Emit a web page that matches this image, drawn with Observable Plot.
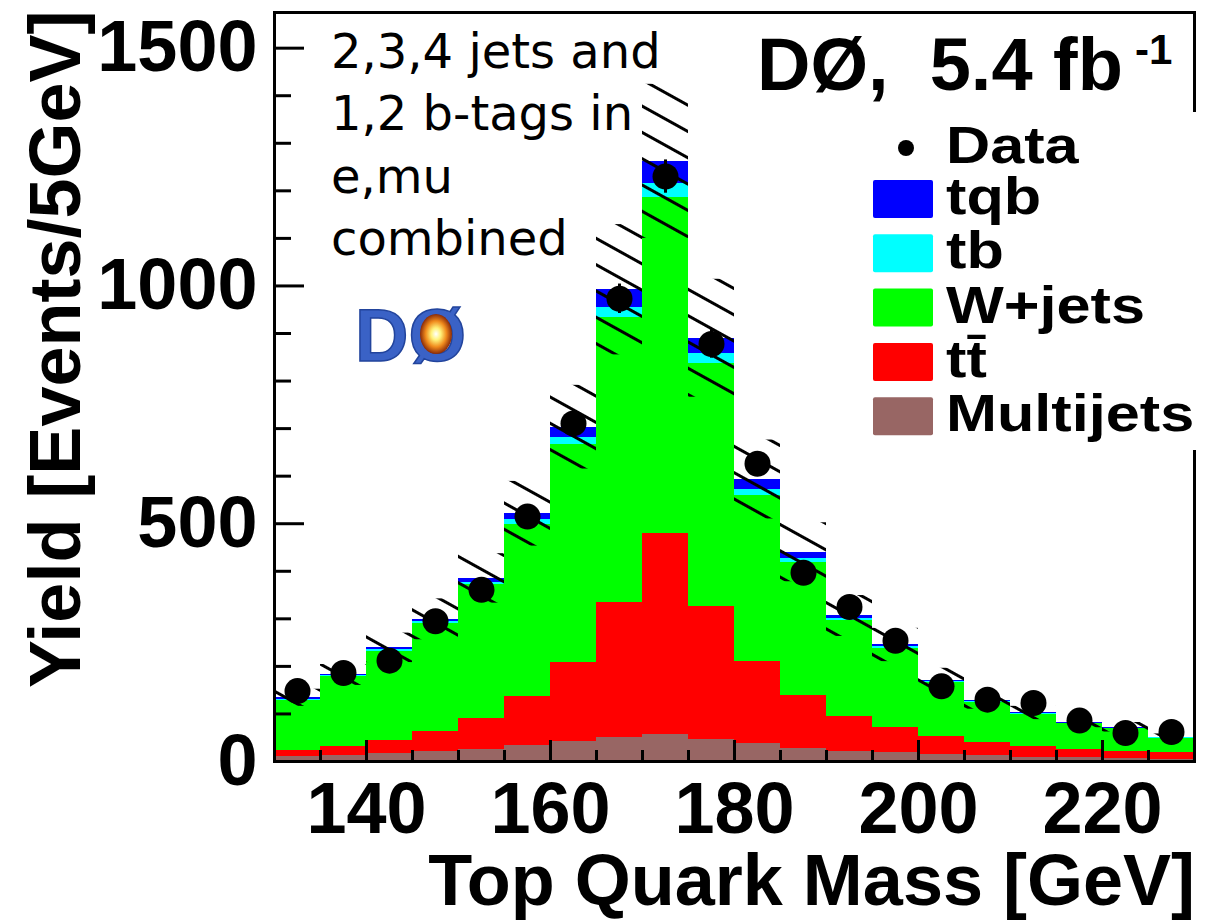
<!DOCTYPE html>
<html>
<head>
<meta charset="utf-8">
<script src="https://cdn.jsdelivr.net/npm/d3@7"></script>
<script src="https://cdn.jsdelivr.net/npm/@observablehq/plot@0.6"></script>
<style>
  html, body { margin: 0; padding: 0; background: #fff; }
  #chart { width: 1218px; height: 921px; }
</style>
</head>
<body>
<div id="chart"></div>
<script>
// ---- data ----
const binLow = [130,135,140,145,150,155,160,165,170,175,180,185,190,195,200,205,210,215,220,225];
const binWidth = 5;
const multijets = [10,12,16,21,26,34,43,50,57,46,37,27,22,18,15,13,9,8,6,5];
const ttbar     = [13,20,28,42,64,103,166,285,423,280,173,112,73,54,38,28,23,17,16,14];
const wjets     = [105,147,188,228,282,361,458,599,707,510,349,280,202,166,114,84,66,54,47,30];
const tb        = [3,2,3,3,5,10,15,21,28,21,13,7,4,3,2,1,2,1,1,1];
const tqb       = [3,2,4,5,8,13,21,37,47,33,21,14,6,4,2,2,2,2,2,1];
const dataYield = [148,186,212,295,361,515,711,973,1230,878,626,397,325,254,158,130,123,86,60,62];
const dataErr   = [12,14,15,17,19,23,27,31,35,30,25,20,18,16,13,11,11,9,8,8];
const bandLow   = [116,160,208,256,333,453,615,855,1100,766,510,378,263,210,146,110,88,71,62,44];
const bandHigh  = [152,204,270,342,437,589,791,1129,1424,1014,676,502,349,280,196,146,116,93,82,58];

const components = ["Multijets", "tt\u0304", "W+jets", "tb", "tqb"];
const componentColors = ["#986664", "#ff0000", "#00ff00", "#00ffff", "#0000ff"];
const legendOrder = ["tqb", "tb", "W+jets", "tt\u0304", "Multijets"];

const yLabelTicks = [0, 500, 1000, 1500];
const yMinorTicks = [100,200,300,400,600,700,800,900,1100,1200,1300,1400];
const xLabelTicks = [140, 160, 180, 200, 220];
const xMinorTicks = [135,145,150,155,165,170,175,185,190,195,205,210,215,225];

const xTitle = "Top Quark Mass [GeV]";
const yTitle = "Yield [Events/5GeV]";
const noteLines = ["2,3,4 jets and", "1,2 b-tags in", "e,mu", "combined"];
const expLabel = "D\u00D8,\u00A0 5.4 fb";
const expSup = "-1";

// ---- tables ----
const series = [multijets, ttbar, wjets, tb, tqb];
const stackRows = binLow.flatMap((lo, i) =>
  components.map((c, j) => ({lo, hi: lo + binWidth, comp: c, value: series[j][i]})));
const bins = binLow.map((lo, i) => ({
  lo, hi: lo + binWidth, mid: lo + binWidth / 2,
  data: dataYield[i], err: dataErr[i], bLo: bandLow[i], bHi: bandHigh[i]
}));

const FONT = "'Liberation Sans', Arial, Helvetica, sans-serif";
const plain = d => String(d);

const chart = Plot.plot({
  width: 1218, height: 921,
  marginLeft: 274, marginRight: 24, marginTop: 12, marginBottom: 160,
  x: {domain: [130, 230], label: null},
  y: {domain: [0, 1575], label: null},
  color: {domain: components, range: componentColors},
  style: {fontFamily: FONT, background: "white", color: "black", overflow: "visible"},
  marks: [
    Plot.rectY(stackRows, {x1: "lo", x2: "hi", y: "value", fill: "comp", shapeRendering: "crispEdges"}),
    Plot.rect(bins, {x1: "lo", x2: "hi", y1: "bLo", y2: "bHi", fill: "url(#hatch)"}),
    Plot.ruleX(bins, {x: "mid", y1: d => d.data - d.err, y2: d => d.data + d.err, stroke: "black", strokeWidth: 3}),
    Plot.dot(bins, {x: "mid", y: "data", r: 13, fill: "black", stroke: "none"}),
    Plot.axisX({ticks: xMinorTicks, tickSize: -11, text: null, strokeWidth: 3, label: null}),
    Plot.axisX({ticks: xLabelTicks, tickSize: -21, text: null, strokeWidth: 3, label: null}),
    Plot.axisX({ticks: xLabelTicks, tickSize: 0, tickPadding: 20, fontSize: 72, fontWeight: "bold", tickFormat: plain, label: null}),
    Plot.axisY({ticks: yMinorTicks, tickSize: -17, text: null, strokeWidth: 3, label: null}),
    Plot.axisY({ticks: yLabelTicks, tickSize: -30, text: null, strokeWidth: 3, label: null}),
    Plot.axisY({ticks: yLabelTicks, tickSize: 0, tickPadding: 17, fontSize: 72, fontWeight: "bold", tickFormat: plain, label: null}),
    Plot.frame({stroke: "black", strokeWidth: 3})
  ]
});
document.getElementById("chart").appendChild(chart);

const svg = d3.select(chart);
const defs = svg.insert("defs", ":first-child");
const pat = defs.append("pattern").attr("id", "hatch").attr("patternUnits", "userSpaceOnUse")
  .attr("width", 40).attr("height", 23).attr("patternTransform", "rotate(29)");
pat.append("line").attr("x1", 0).attr("x2", 40).attr("y1", 11.5).attr("y2", 11.5)
  .attr("stroke", "black").attr("stroke-width", 3);
const grad = defs.append("radialGradient").attr("id", "burst");
[["0%", "#ffffff"], ["30%", "#fff27a"], ["65%", "#f08a1c"], ["100%", "#8a2a08"]].forEach(([o, c]) =>
  grad.append("stop").attr("offset", o).attr("stop-color", c));

const addText = (x, y, txt, size, opts = {}) => {
  const t = svg.append("text").attr("x", x).attr("y", y)
    .attr("text-anchor", opts.anchor || "start")
    .attr("font-family", opts.family || FONT)
    .attr("font-weight", opts.weight || "bold")
    .attr("font-size", size).text(txt);
  if (opts.transform) t.attr("transform", opts.transform);
  return t;
};

// axis titles
addText(1195, 905, xTitle, 72, {anchor: "end"});
addText(0, 0, yTitle, 72, {transform: "translate(80,688) rotate(-90)"});

// selection note
noteLines.forEach((t, i) => addText(331, 68 + i * 62.3, t, 48, {family: "'DejaVu Sans', Verdana, sans-serif", weight: "normal"}));

// experiment label
addText(757, 90, expLabel, 74);
addText(1135, 64, expSup, 42);

// logo
addText(355, 361, "D\u00D8", 74).attr("fill", "#3a62c6").attr("stroke", "#22449c").attr("stroke-width", 1.5);
svg.append("ellipse").attr("cx", 436).attr("cy", 334).attr("rx", 16).attr("ry", 20).attr("fill", "url(#burst)");

// legend
const leg = svg.append("g");
leg.append("rect").attr("x", 862).attr("y", 112).attr("width", 340).attr("height", 338).attr("fill", "white");
leg.append("circle").attr("cx", 906).attr("cy", 148).attr("r", 8).attr("fill", "black");
const legText = (y, txt) => leg.append("text").attr("transform", `translate(946,${y}) scale(1.2,1)`)
  .attr("text-anchor", "start").attr("font-family", FONT).attr("font-weight", "bold")
  .attr("font-size", 51).text(txt);
legText(163, "Data");
const colorOf = c => componentColors[components.indexOf(c)];
legendOrder.forEach((c, i) => {
  const top = 180 + i * 54.3;
  leg.append("rect").attr("x", 873).attr("y", top).attr("width", 60).attr("height", 38)
    .attr("rx", 2).attr("fill", colorOf(c));
  legText(top + 34, c);
});
</script>
</body>
</html>
